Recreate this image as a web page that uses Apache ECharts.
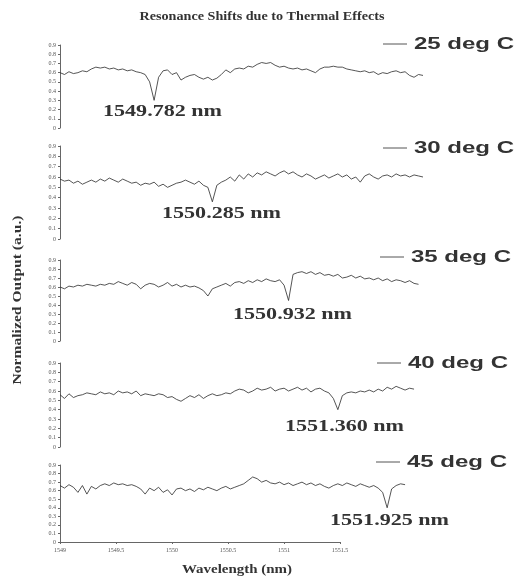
<!DOCTYPE html>
<html>
<head>
<meta charset="utf-8">
<script src="https://cdn.jsdelivr.net/npm/echarts@6/dist/echarts.min.js"></script>
<style>html,body{margin:0;padding:0;background:#fff;}#c{width:518px;height:578px;}</style>
</head>
<body>
<div id="c"></div>
<script>
// Wavelength samples (nm) for the traces
const wavelengths = [
 1549.00,1549.04,1549.08,1549.12,1549.16,1549.20,1549.24,1549.28,1549.32,1549.36,
 1549.40,1549.44,1549.48,1549.52,1549.56,1549.60,1549.64,1549.68,1549.72,1549.76,
 1549.80,1549.84,1549.88,1549.92,1549.96,1550.00,1550.04,1550.08,1550.12,1550.16,
 1550.20,1550.24,1550.28,1550.32,1550.36,1550.40,1550.44,1550.48,1550.52,1550.56,
 1550.60,1550.64,1550.68,1550.72,1550.76,1550.80,1550.84,1550.88,1550.92,1550.96,
 1551.00,1551.04,1551.08,1551.12,1551.16,1551.20,1551.24,1551.28,1551.32,1551.36,
 1551.40,1551.44,1551.48,1551.52,1551.56,1551.60,1551.64,1551.68,1551.72,1551.76,
 1551.80,1551.84,1551.88,1551.92,1551.96,1552.00,1552.04,1552.08,1552.12,1552.16,
 1552.20,1552.24
];
const seriesNames = ['25 deg C','30 deg C','35 deg C','40 deg C','45 deg C'];
const resonanceLabels = ['1549.782 nm','1550.285 nm','1550.932 nm','1551.360 nm','1551.925 nm'];
const t25 = [0.60,0.58,0.61,0.59,0.60,0.62,0.61,0.64,0.66,0.65,
 0.66,0.64,0.65,0.63,0.64,0.62,0.63,0.61,0.60,0.58,0.50,0.30,0.55,0.62,
 0.63,0.58,0.60,0.52,0.55,0.57,0.58,0.55,0.53,0.55,0.52,0.54,
 0.58,0.63,0.60,0.64,0.65,0.64,0.67,0.66,0.69,0.71,0.70,
 0.71,0.68,0.66,0.67,0.65,0.64,0.65,0.63,0.64,0.62,0.60,0.64,
 0.66,0.66,0.67,0.66,0.66,0.64,0.63,0.62,0.61,0.62,0.60,0.61,
 0.58,0.60,0.59,0.61,0.62,0.60,0.61,0.57,0.55,0.58,0.57];
const t30 = [0.58,0.56,0.57,0.54,0.56,0.53,0.55,0.57,0.55,0.58,
 0.56,0.59,0.57,0.55,0.58,0.56,0.54,0.55,0.52,0.54,
 0.53,0.55,0.51,0.53,0.50,0.52,0.54,0.55,0.57,0.55,
 0.53,0.56,0.52,0.50,0.36,0.52,0.55,
 0.57,0.60,0.56,0.62,0.58,0.63,0.60,0.64,0.62,
 0.65,0.63,0.61,0.64,0.66,0.63,0.65,0.62,0.60,0.63,
 0.61,0.58,0.60,0.62,0.59,0.61,0.63,0.60,0.62,0.58,
 0.60,0.55,0.61,0.63,0.60,0.58,0.61,0.62,0.60,0.63,
 0.61,0.62,0.60,0.62,0.61,0.60];
const t35 = [0.60,0.58,0.61,0.60,0.62,0.61,0.63,0.62,0.61,0.63,
 0.62,0.64,0.63,0.66,0.64,0.62,0.65,0.63,0.58,0.62,
 0.64,0.63,0.60,0.62,0.65,0.61,0.63,0.60,0.62,0.60,
 0.61,0.59,0.56,0.50,0.58,0.60,
 0.62,0.64,0.61,0.65,0.66,0.64,0.67,0.65,0.68,0.66,
 0.69,0.67,0.66,0.68,0.62,0.45,
 0.74,0.76,0.77,0.75,0.77,0.74,0.76,0.73,0.74,
 0.72,0.74,0.70,0.71,0.73,0.70,0.72,0.69,0.70,0.68,
 0.70,0.67,0.69,0.66,0.68,0.67,0.65,0.67,0.64,0.63];
const t40 = [0.56,0.52,0.57,0.53,0.55,0.56,0.58,0.57,0.56,0.59,
 0.57,0.58,0.56,0.60,0.58,0.59,0.57,0.60,0.55,0.57,
 0.56,0.55,0.57,0.56,0.53,0.54,0.51,0.49,0.52,0.55,
 0.53,0.56,0.52,0.55,0.57,0.55,0.56,0.58,0.57,0.60,
 0.62,0.61,0.58,0.60,0.63,0.61,0.62,0.64,0.60,0.62,
 0.63,0.60,0.62,0.64,0.61,0.63,0.59,0.62,0.63,0.60,
 0.58,0.52,0.40,0.55,0.58,
 0.59,0.58,0.60,0.59,0.61,0.59,0.62,0.60,
 0.64,0.62,0.65,0.63,0.61,0.63,0.62];
const t45 = [0.66,0.63,0.67,0.64,0.58,0.66,0.56,0.65,0.62,0.66,
 0.68,0.66,0.69,0.67,0.68,0.66,0.67,0.65,0.62,0.56,
 0.63,0.60,0.64,0.58,0.61,0.55,0.62,0.63,0.60,0.62,
 0.59,0.63,0.61,0.64,0.62,0.60,0.63,0.65,0.62,0.64,
 0.66,0.68,0.72,0.76,0.74,0.70,0.72,0.69,0.68,0.70,
 0.67,0.69,0.66,0.68,0.70,0.67,0.69,0.66,0.68,0.65,
 0.63,0.66,0.68,0.66,0.69,0.67,0.65,0.68,0.66,0.64,
 0.66,0.63,0.58,0.40,0.62,0.66,0.68,0.67];
const traces = [t25,t30,t35,t40,t45];
const xTickLabels = ['1549','1549.5','1550','1550.5','1551','1551.5'];
const yTicks = [0,0.1,0.2,0.3,0.4,0.5,0.6,0.7,0.8,0.9];

// layout (pixels)
const panels = [
  {top:45, height:83, legY:44, legX:383, annX:103, annY:112},
  {top:146, height:93, legY:148, legX:383, annX:162, annY:214},
  {top:260, height:81, legY:257, legX:380, annX:233, annY:315},
  {top:363, height:84, legY:363, legX:377, annX:285, annY:427},
  {top:465, height:77, legY:462, legX:376, annX:330, annY:521}
];
const chart = echarts.init(document.getElementById('c'), null, {renderer:'canvas'});
const grid=[], xAxis=[], yAxis=[], series=[], graphic=[];
panels.forEach((p,i)=>{
  grid.push({left:60, width:363, top:p.top, height:p.height});
  xAxis.push({type:'category', gridIndex:i, data:wavelengths, boundaryGap:false, show:false});
  yAxis.push({type:'value', gridIndex:i, min:yTicks[0], max:yTicks[yTicks.length-1], interval:0.1,
    axisLine:{show:true, lineStyle:{color:'#666', width:1}},
    axisTick:{show:true, length:2, lineStyle:{color:'#666'}},
    splitLine:{show:false},
    axisLabel:{fontSize:6, color:'#555', margin:4, fontFamily:'Liberation Serif',
      formatter:v=> v===0 ? '0' : v.toFixed(1)}});
  series.push({name:seriesNames[i], type:'line', xAxisIndex:i, yAxisIndex:i, data:traces[i],
    symbol:'none', lineStyle:{color:'#2a2a2a', width:0.8}, silent:true});
  graphic.push({type:'line', shape:{x1:p.legX, y1:p.legY, x2:p.legX+24, y2:p.legY}, style:{stroke:'#555', lineWidth:1}});
  graphic.push({type:'text', x:p.legX+31, y:p.legY+1, scaleX:1.5,
    style:{text:seriesNames[i], font:'bold 16px "Liberation Sans", Arial', fill:'#333', textAlign:'left', textVerticalAlign:'middle'}});
  graphic.push({type:'text', x:p.annX, y:p.annY, scaleX:1.38,
    style:{text:resonanceLabels[i], font:'bold 16px "Liberation Serif", "Times New Roman"', fill:'#333', textAlign:'left', textVerticalAlign:'middle'}});
});
// shared wavelength axis
grid.push({left:60, width:280, top:541, height:1});
xAxis.push({type:'value', gridIndex:5, min:1549, max:1551.5, interval:0.5,
  axisLine:{show:true, lineStyle:{color:'#666', width:1}},
  axisTick:{show:true, length:2, inside:false, lineStyle:{color:'#666'}},
  splitLine:{show:false},
  axisLabel:{fontSize:6, color:'#555', margin:5, fontFamily:'Liberation Serif',
    formatter:v=>{ const k=Math.round((v-1549)/0.5); return xTickLabels[k]!==undefined?xTickLabels[k]:''; }}});
yAxis.push({type:'value', gridIndex:5, show:false, min:0, max:1});
// titles
graphic.push({type:'text', x:262, y:17, scaleX:1.18,
  style:{text:'Resonance Shifts due to Thermal Effects', font:'bold 12px "Liberation Serif", "Times New Roman"', fill:'#333', textAlign:'center', textVerticalAlign:'middle'}});
graphic.push({type:'text', x:237, y:570, scaleX:1.15,
  style:{text:'Wavelength (nm)', font:'bold 13px "Liberation Serif", "Times New Roman"', fill:'#333', textAlign:'center', textVerticalAlign:'middle'}});
graphic.push({type:'text', x:18, y:300, rotation:Math.PI/2, scaleX:1.3,
  style:{text:'Normalized Output (a.u.)', font:'bold 12px "Liberation Serif", "Times New Roman"', fill:'#333', textAlign:'center', textVerticalAlign:'middle'}});

chart.setOption({animation:false, backgroundColor:'#fff', grid, xAxis, yAxis, series, graphic});
</script>
</body>
</html>
